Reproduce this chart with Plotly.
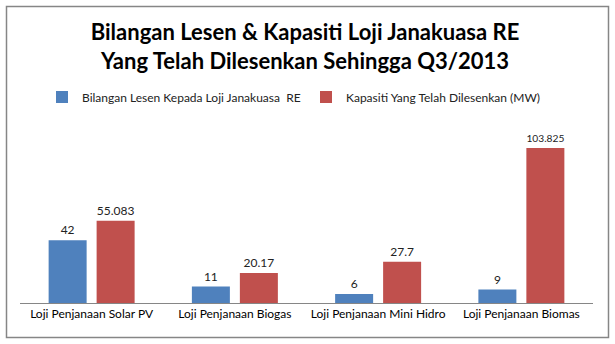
import plotly.graph_objects as go

categories = ["Loji Penjanaan Solar PV", "Loji Penjanaan Biogas",
              "Loji Penjanaan Mini Hidro", "Loji Penjanaan Biomas"]
lesen = [42, 11, 6, 9]
kapasiti = [55.083, 20.17, 27.7, 103.825]
lesen_labels = ["42", "11", "6", "9"]
kapasiti_labels = ["55.083", "20.17", "27.7", "103.825"]

FONT = "Lato"
W, H = 615, 344
L, R, T, B = 20, 22, 105, 41
plot_h = H - T - B
plot_w = W - L - R
ymax = plot_h / 1.493

fig = go.Figure()
fig.add_trace(go.Bar(
    x=categories, y=lesen, name="Bilangan Lesen Kepada Loji Janakuasa  RE",
    marker=dict(color="#4F81BD", line=dict(width=0)),
    text=lesen_labels, textposition="outside", cliponaxis=False,
    textfont=dict(family=FONT, size=12, color="#222222"),
))
fig.add_trace(go.Bar(
    x=categories, y=kapasiti, name="Kapasiti Yang Telah Dilesenkan (MW)",
    marker=dict(color="#C0504D", line=dict(width=0)),
    text=kapasiti_labels, textposition="outside", cliponaxis=False,
    textfont=dict(family=FONT, size=12, color="#222222"),
))

def px_x(x):
    return (x - L) / plot_w

def px_y(y):
    return (H - B - y) / plot_h

fig.update_layout(
    width=W, height=H,
    margin=dict(l=L, r=R, t=T, b=B),
    paper_bgcolor="white", plot_bgcolor="white",
    barmode="group", bargap=0.33, bargroupgap=0.208,
    title=dict(
        text="<b>Bilangan Lesen &amp; Kapasiti Loji Janakuasa RE<br>Yang Telah Dilesenkan Sehingga Q3/2013</b>",
        x=0.496, xanchor="center", y=1 - 40 / H, yanchor="middle",
        font=dict(family=FONT, size=22, color="#000000"),
    ),
    showlegend=True,
    legend=dict(
        orientation="h", x=px_x(42), xanchor="left",
        y=px_y(97), yanchor="middle",
        font=dict(family=FONT, size=12, color="#222222"),
        entrywidth=219, entrywidthmode="pixels",
        bgcolor="rgba(0,0,0,0)",
    ),
    xaxis=dict(
        showline=True, linecolor="#868686", linewidth=1,
        ticks="", showgrid=False,
        tickfont=dict(family=FONT, size=12, color="#000000"),
        fixedrange=True,
    ),
    yaxis=dict(
        range=[0, ymax], visible=False, showgrid=False, zeroline=False,
        fixedrange=True,
    ),
    shapes=[dict(
        type="rect", xref="paper", yref="paper",
        x0=px_x(6.5), x1=px_x(608.5), y0=px_y(337.5), y1=px_y(6.5),
        line=dict(color="#868686", width=1.5), fillcolor="rgba(0,0,0,0)",
        layer="above",
    )],
)

fig.write_html("out.html")
